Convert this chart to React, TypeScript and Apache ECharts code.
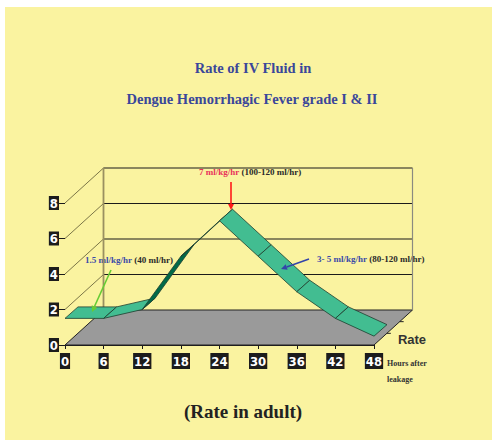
import { useEffect, useRef } from "react";
import * as echarts from "echarts";

// Data
const hours = [0, 6, 12, 18, 24, 30, 36, 42, 48];
const rates = [1.5, 1.5, 2, 5, 7, 5, 3, 1.5, 0.5];
const rateTicks = [0, 2, 4, 6, 8];
const titleLines = ["Rate of IV Fluid in", "Dengue Hemorrhagic Fever grade I & II"];

// 3D projection constants (pixels)
const DEPTH = [38.5, -35];
const RIBBON = [13, -11.5];

const SERIF = '"Liberation Serif", "Times New Roman", serif';
const COND = '"DejaVu Sans Condensed", "DejaVu Sans", sans-serif';

function arrow(x1: number, y1: number, x2: number, y2: number, color: string, w = 1.6) {
  const ang = Math.atan2(y2 - y1, x2 - x1);
  const L = 6, W = 3;
  const bx = x2 - L * Math.cos(ang), by = y2 - L * Math.sin(ang);
  const px = -Math.sin(ang) * W, py = Math.cos(ang) * W;
  return [
    { type: "line", silent: true, z: 20, shape: { x1, y1, x2: bx, y2: by }, style: { stroke: color, lineWidth: w } },
    {
      type: "polygon", silent: true, z: 20,
      shape: { points: [[x2, y2], [bx + px, by + py], [bx - px, by - py]] },
      style: { fill: color },
    },
  ];
}

export default function App() {
  const ref = useRef<HTMLDivElement>(null);
  useEffect(() => {
    const chart = echarts.init(ref.current!, null, { renderer: "svg" });
    const xMin = 0, xMax = 48, yMax = rateTicks[rateTicks.length - 1];
    const add = (p: number[], d: number[]) => [p[0] + d[0], p[1] + d[1]];

    const frameRender = (params: any, api: any) => {
      const v = api.value(1);
      const f0 = api.coord([xMin, v]);
      const f1 = api.coord([xMax, v]);
      const b0 = add(f0, DEPTH);
      const b1 = add(f1, DEPTH);
      const children: any[] = [];
      if (v === 0) {
        children.push({
          type: "polygon",
          shape: { points: [f0, f1, b1, b0] },
          style: { fill: "#9a9a9a", stroke: "#222", lineWidth: 1 },
        });
        for (const t of [1 / 3, 2 / 3]) {
          const px = f1[0] + DEPTH[0] * t, py = f1[1] + DEPTH[1] * t;
          children.push({ type: "line", shape: { x1: px, y1: py, x2: px + 4, y2: py }, style: { stroke: "#222", lineWidth: 1 } });
        }
      } else {
        children.push({ type: "line", shape: { x1: b0[0], y1: b0[1], x2: b1[0], y2: b1[1] }, style: { stroke: "#1a1a1a", lineWidth: 1.2 } });
        children.push({ type: "line", shape: { x1: f0[0], y1: f0[1], x2: b0[0], y2: b0[1] }, style: { stroke: "#5a5530", lineWidth: 0.8 } });
      }
      if (v === yMax) {
        const z0 = add(api.coord([xMin, 0]), DEPTH);
        const z1 = add(api.coord([xMax, 0]), DEPTH);
        children.push({ type: "line", shape: { x1: b0[0], y1: b0[1], x2: z0[0], y2: z0[1] }, style: { stroke: "#9a9060", lineWidth: 1.8 } });
        children.push({ type: "line", shape: { x1: b1[0], y1: b1[1], x2: z1[0], y2: z1[1] }, style: { stroke: "#8a8a80", lineWidth: 1.2 } });
      }
      return { type: "group", children };
    };

    const ribbonRender = (params: any, api: any) => {
      const i = params.dataIndex;
      if (i >= hours.length - 1) return { type: "group", children: [] };
      const p1 = api.coord([api.value(0), api.value(1)]);
      const p2 = api.coord([hours[i + 1], rates[i + 1]]);
      const q1 = add(p1, RIBBON), q2 = add(p2, RIBBON);
      const dx = p2[0] - p1[0], dy = p2[1] - p1[1];
      const cross = dx * RIBBON[1] - dy * RIBBON[0];
      const under = cross > 0;
      return {
        type: "polygon",
        shape: { points: [p1, p2, q2, q1] },
        style: { fill: under ? "#006a48" : "#42bd91", stroke: "#1e3d2e", lineWidth: 0.8, lineJoin: "round" },
      };
    };

    const labelStyle = {
      color: "#fff",
      fontWeight: "bold" as const,
      fontSize: 13,
      fontFamily: COND,
      backgroundColor: "#1c1c1c",
      padding: [2, 1, 1, 1],
    };

    const txt = (text: string, x: number, y: number, font: string, fill: string, align = "center") => ({
      type: "text", silent: true, x, y,
      style: { text, font, fill, align, verticalAlign: "middle", textAlign: align, textVerticalAlign: "middle" },
    });
    const richTxt = (a: string, b: string, ca: string, x: number, y: number) => ({
      type: "text", silent: true, x, y,
      style: {
        text: `{a|${a}} {b|${b}}`,
        font: `bold 9px ${SERIF}`,
        align: "left", verticalAlign: "middle", textAlign: "left", textVerticalAlign: "middle",
        rich: {
          a: { fill: ca, fontSize: 9, fontWeight: "bold", fontFamily: SERIF },
          b: { fill: "#2a2a2a", fontSize: 9, fontWeight: "bold", fontFamily: SERIF },
        },
      },
    });

    chart.setOption({
      animation: false,
      backgroundColor: "#ffffff",
      grid: { left: 65, top: 203, right: 118, bottom: 95, containLabel: false, outerBoundsMode: "none" },
      xAxis: {
        type: "value", min: xMin, max: xMax, interval: 6,
        axisLine: { show: true, lineStyle: { color: "#1a1a1a", width: 1.2 } },
        axisTick: { show: true, length: 4, lineStyle: { color: "#1a1a1a" } },
        splitLine: { show: false },
        axisLabel: { ...labelStyle, margin: 8 },
      },
      yAxis: {
        type: "value", min: 0, max: yMax, interval: 2,
        axisLine: { show: false },
        axisTick: { show: true, length: 6, lineStyle: { color: "#1a1a1a" } },
        splitLine: { show: false },
        axisLabel: { ...labelStyle, padding: [1, 1, 0, 1], margin: 6 },
      },
      graphic: [
        { type: "rect", silent: true, z: -10, shape: { x: 5, y: 7, width: 487, height: 433 }, style: { fill: "#faf3a0" } },
        txt(titleLines[0], 253, 68, `bold 14.5px ${SERIF}`, "#3a479a"),
        txt(titleLines[1], 252, 99, `bold 14.5px ${SERIF}`, "#3a479a"),
        txt("(Rate in adult)", 243, 411, `bold 19px ${SERIF}`, "#222"),
        txt("Rate", 412, 339, `bold 13px "Liberation Sans", Arial, sans-serif`, "#333"),
        txt("Hours after", 387, 363, `bold 8px ${SERIF}`, "#333", "left"),
        txt("leakage", 387, 379, `bold 8px ${SERIF}`, "#333", "left"),
        richTxt("7 ml/kg/hr", "(100-120 ml/hr)", "#e8305a", 199, 172),
        richTxt("1.5 ml/kg/hr", "(40 ml/hr)", "#3a4aa8", 85, 260),
        richTxt("3- 5 ml/kg/hr", "(80-120 ml/hr)", "#3a4aa8", 317, 259),
        ...arrow(231, 182, 231, 210, "#ff1a1a"),
        ...arrow(111, 270, 92, 312, "#66cc33"),
        ...arrow(309, 259, 281, 269, "#3344aa"),
      ],
      series: [
        {
          type: "custom", silent: true, z: 1, clip: false,
          data: rateTicks.map((v) => [0, v]),
          encode: { x: 0, y: 1 },
          renderItem: frameRender,
        },
        {
          type: "custom", silent: true, z: 2, clip: false,
          data: hours.map((h, i) => [h, rates[i]]),
          encode: { x: 0, y: 1 },
          renderItem: ribbonRender,
        },
      ],
    });
    return () => chart.dispose();
  }, []);
  return (
    <div style={{ position: "fixed", left: 0, top: 0, width: 492, height: 440, background: "#fff" }}>
      <div ref={ref} style={{ width: 492, height: 440 }} />
    </div>
  );
}
